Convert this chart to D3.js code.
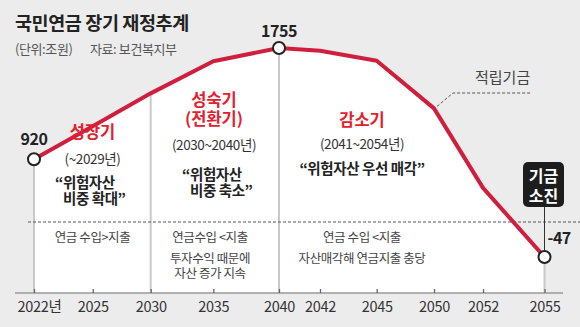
<!DOCTYPE html>
<html>
<head>
<meta charset="utf-8">
<script src="https://cdn.jsdelivr.net/npm/d3@7"></script>
<style>
  html, body { margin: 0; padding: 0; background: #ececec; }
  svg { display: block; font-family: "Noto Sans CJK KR", "Noto Sans", sans-serif; }
</style>
</head>
<body>
<svg id="chart" width="580" height="327"></svg>
<script>
// 국민연금 적립기금 장기 전망 (단위: 조원)
const years = [2022, 2025, 2030, 2035, 2040, 2042, 2045, 2050, 2052, 2055];
const fundValues = [920, 1180, 1427, 1661, 1755, 1735, 1664, 1315, 683, -47];
const tickLabels = ["2022년", "2025", "2030", "2035", "2040", "2042", "2045", "2050", "2052", "2055"];

// 값 표시 연도와 구간 경계
const labeledYears = [2022, 2040, 2055];
const phaseBounds = [2022, 2030, 2040, 2055];

// 구간별 설명
const phaseTitles = [["성장기"], ["성숙기", "(전환기)"], ["감소기"]];
const phasePeriods = ["(~2029년)", "(2030~2040년)", "(2041~2054년)"];
const phaseQuotes = [["“위험자산", "비중 확대”"], ["“위험자산", "비중 축소”"], ["“위험자산 우선 매각”"]];
const phaseNotes = [
  ["연금 수입>지출"],
  ["연금수입 <지출", "투자수익 때문에", "자산 증가 지속"],
  ["연금 수입 <지출", "자산매각해 연금지출 충당"]
];

const titleText = "국민연금 장기 재정추계";
const unitText = "(단위:조원)";
const sourceText = "자료: 보건복지부";
const seriesName = "적립기금";
const depletionText = ["기금", "소진"];

// ---- layout ----
const W = 580, H = 327;
const baseY = 293;                       // 가로축 위치
const tickStops = [34, 92.7, 150.7, 213.3, 279, 320, 376.7, 434, 483, 544.5];
const lineColor = "#cf1f3e";
const accent = "#e3202d";

const data = years.map((yr, i) => ({ year: yr, value: fundValues[i] }));
const valueOf = yr => data.find(d => d.year === yr).value;

const x = d3.scaleLinear().domain(years).range(tickStops);
const y = d3.scalePow().exponent(1.2)
  .domain(d3.extent(fundValues))
  .range([257, 48]);

const svg = d3.select("#chart");

// 선 아래 흰 영역
svg.append("path")
  .datum(data)
  .attr("fill", "#ffffff")
  .attr("d", d3.area().x(d => x(d.year)).y0(baseY).y1(d => y(d.value)));

// 구간 경계 세로선
svg.append("g").selectAll("line")
  .data(phaseBounds)
  .join("line")
  .attr("x1", d => x(d)).attr("x2", d => x(d))
  .attr("y1", d => y(valueOf(d))).attr("y2", baseY)
  .attr("stroke", "#c9c9c9").attr("stroke-width", 2);

// 수입·지출 구분 점선
svg.append("line")
  .attr("x1", 28).attr("x2", W)
  .attr("y1", 222).attr("y2", 222)
  .attr("stroke", "#555").attr("stroke-width", 1)
  .attr("stroke-dasharray", "3,2");

// 가로축
svg.append("line")
  .attr("x1", 15).attr("x2", 563)
  .attr("y1", baseY).attr("y2", baseY)
  .attr("stroke", "#9a9a9a").attr("stroke-width", 1.6);

const axis = d3.axisBottom(x)
  .tickValues(years)
  .tickFormat((d, i) => tickLabels[i])
  .tickSizeInner(-4)
  .tickSizeOuter(0)
  .tickPadding(9);

const axisG = svg.append("g")
  .attr("transform", `translate(0,${baseY})`)
  .call(axis);
axisG.select(".domain").remove();
axisG.selectAll(".tick line").attr("stroke", "#666").attr("stroke-width", 1.3);
axisG.selectAll(".tick text")
  .attr("fill", "#333")
  .attr("font-size", 14.5)
  .attr("letter-spacing", -0.3)
  .attr("font-family", "\"Noto Sans CJK KR\", sans-serif")
  .attr("dx", (d, i) => i === 0 ? 5 : 0);

// 적립기금 선
svg.append("path")
  .datum(data)
  .attr("fill", "none")
  .attr("stroke", lineColor)
  .attr("stroke-width", 4)
  .attr("stroke-linejoin", "round")
  .attr("d", d3.line().x(d => x(d.year)).y(d => y(d.value)));

// 기금 소진 표시
const endYear = years[years.length - 1];
const ex = x(endYear), ey = y(valueOf(endYear));
const boxW = 41, boxH = 45, boxTop = 162;
svg.append("line")
  .attr("x1", ex).attr("x2", ex)
  .attr("y1", boxTop + boxH).attr("y2", ey)
  .attr("stroke", "#333").attr("stroke-width", 1);
svg.append("rect")
  .attr("x", ex - boxW / 2 - 1).attr("y", boxTop)
  .attr("width", boxW).attr("height", boxH)
  .attr("rx", 5)
  .attr("fill", "#1d1d1d");
svg.append("g").selectAll("text")
  .data(depletionText)
  .join("text")
  .attr("x", ex - 1)
  .attr("y", (d, i) => boxTop + 13 + i * 20)
  .attr("text-anchor", "middle")
  .attr("dominant-baseline", "central")
  .attr("fill", "#fff")
  .attr("font-size", 16)
  .attr("font-weight", 700)
  .text(d => d);

// 값 표시 점
svg.append("g").selectAll("circle")
  .data(labeledYears)
  .join("circle")
  .attr("cx", d => x(d)).attr("cy", d => y(valueOf(d)))
  .attr("r", 6)
  .attr("fill", "#fff")
  .attr("stroke", "#222")
  .attr("stroke-width", 2);

// 값 레이블
const valueLabelPos = {
  2022: { dx: 0, dy: -21, anchor: "middle" },
  2040: { dx: 0, dy: -18, anchor: "middle" },
  2055: { dx: 3, dy: -20, anchor: "start" }
};
svg.append("g").selectAll("text")
  .data(labeledYears)
  .join("text")
  .attr("x", d => x(d) + valueLabelPos[d].dx)
  .attr("y", d => y(valueOf(d)) + valueLabelPos[d].dy)
  .attr("text-anchor", d => valueLabelPos[d].anchor)
  .attr("dominant-baseline", "central")
  .attr("fill", "#222")
  .attr("font-size", 16)
  .attr("font-weight", 700)
  .attr("letter-spacing", -0.5)
  .text(d => String(valueOf(d)));

// 적립기금 범례 지시선
const lx = x(2050), ly = y(valueOf(2050));
svg.append("path")
  .attr("d", `M${lx + 3},${ly - 2} L${lx + 19},${93} L${lx + 98},${93}`)
  .attr("fill", "none")
  .attr("stroke", "#555").attr("stroke-width", 1)
  .attr("stroke-dasharray", "3,2");
svg.append("text")
  .attr("x", lx + 41).attr("y", 76.5)
  .attr("dominant-baseline", "central")
  .attr("fill", "#444")
  .attr("font-size", 15)
  .text(seriesName);

// 제목
svg.append("text")
  .attr("x", 15).attr("y", 21.5)
  .attr("dominant-baseline", "central")
  .attr("fill", "#222")
  .attr("font-size", 18.5)
  .attr("font-weight", 700)
  .attr("letter-spacing", -0.4)
  .text(titleText);
svg.append("text")
  .attr("x", 15).attr("y", 48)
  .attr("dominant-baseline", "central")
  .attr("fill", "#555")
  .attr("font-size", 13)
  .attr("letter-spacing", -0.4)
  .text(unitText);
svg.append("text")
  .attr("x", 90).attr("y", 48)
  .attr("dominant-baseline", "central")
  .attr("fill", "#555")
  .attr("font-size", 13)
  .attr("letter-spacing", -0.4)
  .text(sourceText);

// 구간 설명 배치
const phaseLayout = [
  { cx: 92.5, titleY: [131], periodY: 158, quoteX: 55, quoteY: [180.5, 197.5] },
  { cx: 214, titleY: [98.5, 117.5], periodY: 144, quoteX: 182, quoteY: [172.5, 189.5] },
  { cx: 362, titleY: [119], periodY: 143.3, quoteX: 362, quoteY: [167.5] }
];
const noteY = [236.7, 257.5, 272];

const phaseG = svg.append("g");
phaseLayout.forEach((p, i) => {
  phaseTitles[i].forEach((t, j) => {
    phaseG.append("text")
      .attr("x", p.cx).attr("y", p.titleY[j])
      .attr("text-anchor", "middle")
      .attr("dominant-baseline", "central")
      .attr("fill", accent)
      .attr("font-size", 16.5)
      .attr("font-weight", 700)
      .text(t);
  });
  phaseG.append("text")
    .attr("x", p.cx).attr("y", p.periodY)
    .attr("text-anchor", "middle")
    .attr("dominant-baseline", "central")
    .attr("fill", "#333")
    .attr("font-size", 13.5)
    .attr("letter-spacing", -0.4)
    .text(phasePeriods[i]);

  const quotes = phaseQuotes[i];
  if (quotes.length === 1) {
    phaseG.append("text")
      .attr("x", p.quoteX).attr("y", p.quoteY[0])
      .attr("text-anchor", "middle")
      .attr("dominant-baseline", "central")
      .attr("fill", "#222")
      .attr("font-size", 14.5)
      .attr("font-weight", 700)
      .attr("letter-spacing", -0.4)
      .text(quotes[0]);
  } else {
    // 여는 따옴표는 밖으로 내어 두 줄의 글자 시작을 맞춘다
    const first = phaseG.append("text")
      .attr("x", p.quoteX).attr("y", p.quoteY[0])
      .attr("dominant-baseline", "central")
      .attr("fill", "#222")
      .attr("font-size", 14.5)
      .attr("font-weight", 700)
      .attr("letter-spacing", -0.4);
    const mark = first.append("tspan").text(quotes[0].charAt(0));
    first.append("tspan").text(quotes[0].slice(1));
    const indent = mark.node().getComputedTextLength();
    phaseG.append("text")
      .attr("x", p.quoteX + indent).attr("y", p.quoteY[1])
      .attr("dominant-baseline", "central")
      .attr("fill", "#222")
      .attr("font-size", 14.5)
      .attr("font-weight", 700)
      .attr("letter-spacing", -0.4)
      .text(quotes[1]);
  }

  phaseNotes[i].forEach((t, j) => {
    phaseG.append("text")
      .attr("x", p.cx - (i === 1 ? 4 : 0)).attr("y", noteY[j])
      .attr("text-anchor", "middle")
      .attr("dominant-baseline", "central")
      .attr("fill", "#444")
      .attr("font-size", 12.5)
      .attr("letter-spacing", -0.4)
      .text(t);
  });
});
</script>
</body>
</html>
